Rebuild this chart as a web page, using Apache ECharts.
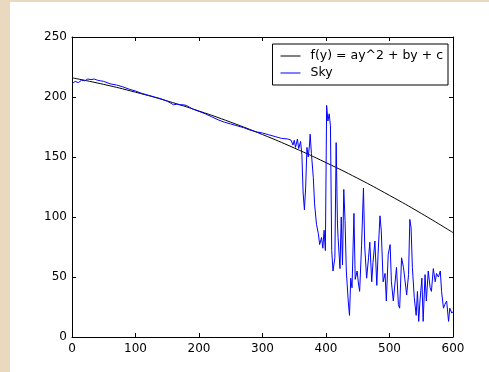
<!DOCTYPE html>
<html>
<head>
<meta charset="utf-8">
<script src="https://cdn.jsdelivr.net/npm/echarts@6/dist/echarts.min.js"></script>
<style>
  html, body { margin: 0; padding: 0; background: #e9d9bf; }
  #chart { position: absolute; left: 10px; top: 2px; width: 479px; height: 370px; background: #fff; }
</style>
</head>
<body>
<div id="chart"></div>
<script>
// fitted curve
const fitX = [0, 50, 100, 150, 200, 250, 300, 350, 400, 450, 500, 550, 600]
const fitY = [216, 210.5, 204, 196.7, 188.3, 179, 168.7, 157.5, 145.3, 132.2, 118, 103, 87]

// measured sky profile
const skyX = [
  0, 5, 10, 15, 20, 25, 30, 35, 40, 45, 50, 60, 70, 80, 90, 100, 110, 120, 130, 140,
  150, 155, 160, 165, 170, 175, 180, 185, 190, 200, 210, 220, 230, 240, 250, 260, 270, 280, 290, 300,
  310, 320, 330, 340, 345, 348, 350, 352, 355, 357, 360, 362,
  364, 366, 368, 370, 372, 374, 375, 377, 380, 382, 385, 388, 390, 393, 395, 397, 399,
  401, 403, 405, 407, 409, 411, 414, 416, 418, 419, 422, 424, 426, 428, 430, 432, 435, 437,
  439, 441, 444, 446, 449, 451, 453, 456, 459, 461, 464, 467, 469, 472, 474, 477, 480, 482,
  485, 487, 490, 493, 495, 498, 501, 503, 506, 509, 511, 514, 516, 519, 522, 524, 527, 530,
  532, 534, 536, 539, 542, 544, 546, 548, 551, 553, 556, 558, 561, 564, 566, 569, 572, 574,
  577, 580, 582, 585, 587, 590, 593, 595, 598, 600
]
const skyY = [
  211, 213, 212, 214, 213.5, 215, 214.5, 215, 214, 213.5, 213, 211, 210, 208.5, 206.5, 205, 203, 201.5, 200, 198.5,
  196.5, 195, 193.5, 194, 193.5, 193.5, 193, 191.5, 190, 188, 186, 183.5, 181, 179, 177.5, 176, 174.5, 172.5, 171, 170,
  168.5, 167, 165.5, 165, 164, 160, 164, 158, 165, 157, 163, 152,
  120, 106, 125, 158, 150, 160, 169, 153, 133, 111, 94, 86, 77, 83, 74, 89, 72,
  193, 180, 186, 176, 72, 55, 66, 162, 95, 83, 57, 100, 60, 123, 97, 55, 30, 18,
  49, 41, 103, 48, 55, 45, 38, 76, 124, 75, 49, 66, 79, 46, 62, 80, 43, 69,
  101, 89, 46, 53, 30, 69, 77, 46, 30, 30, 58, 27, 24, 66, 58, 49, 35, 52,
  98, 91, 58, 33, 18, 38, 13, 30, 49, 13, 52, 30, 55, 41, 38, 57, 46, 53,
  50, 55, 38, 24, 27, 30, 13, 24, 20, 21
]

const xTicks = { min: 0, max: 600, interval: 100 }
const yTicks = { min: 0, max: 250, interval: 50 }

const chart = echarts.init(document.getElementById('chart'))

const font = 'DejaVu Sans'
const frameLine = { show: true, onZero: false, lineStyle: { color: '#000', width: 1 } }
const tickIn = { show: true, inside: true, length: 4, lineStyle: { color: '#000', width: 1 } }

const option = {
  animation: false,
  grid: { left: 62, right: 36, top: 35, bottom: 35, outerBoundsMode: 'none' },
  legend: {
    orient: 'vertical',
    right: 41,
    top: 42,
    data: [
      { name: 'f(y) = ay^2 + by + c', icon: 'rect' },
      { name: 'Sky', icon: 'rect' }
    ],
    borderColor: '#000',
    borderWidth: 1,
    borderRadius: 0,
    padding: [5, 5, 5, 8],
    itemGap: 3,
    itemWidth: 20,
    itemHeight: 1,
    textStyle: { fontFamily: font, fontSize: 12.5, color: '#000', padding: [0, 0, 0, 5], lineHeight: 14 }
  },
  xAxis: [
    {
      type: 'value', ...xTicks, position: 'bottom',
      axisLine: frameLine, axisTick: tickIn, splitLine: { show: false },
      axisLabel: { fontFamily: font, fontSize: 12, color: '#000', margin: 6 }
    },
    {
      type: 'value', ...xTicks, position: 'top',
      axisLine: frameLine, axisTick: tickIn, splitLine: { show: false },
      axisLabel: { show: false }
    }
  ],
  yAxis: [
    {
      type: 'value', ...yTicks, position: 'left',
      axisLine: frameLine, axisTick: tickIn, splitLine: { show: false },
      axisLabel: { fontFamily: font, fontSize: 12, color: '#000', margin: 5 }
    },
    {
      type: 'value', ...yTicks, position: 'right',
      axisLine: frameLine, axisTick: tickIn, splitLine: { show: false },
      axisLabel: { show: false }
    }
  ],
  series: [
    {
      name: 'f(y) = ay^2 + by + c',
      type: 'line',
      smooth: true,
      symbol: 'none',
      data: fitX.map((x, i) => [x, fitY[i]]),
      lineStyle: { color: '#000', width: 1 },
      itemStyle: { color: '#000' }
    },
    {
      name: 'Sky',
      type: 'line',
      symbol: 'none',
      data: skyX.map((x, i) => [x, skyY[i]]),
      lineStyle: { color: '#0000ff', width: 1 },
      itemStyle: { color: '#0000ff' }
    }
  ]
}

chart.setOption(option)
</script>
</body>
</html>
